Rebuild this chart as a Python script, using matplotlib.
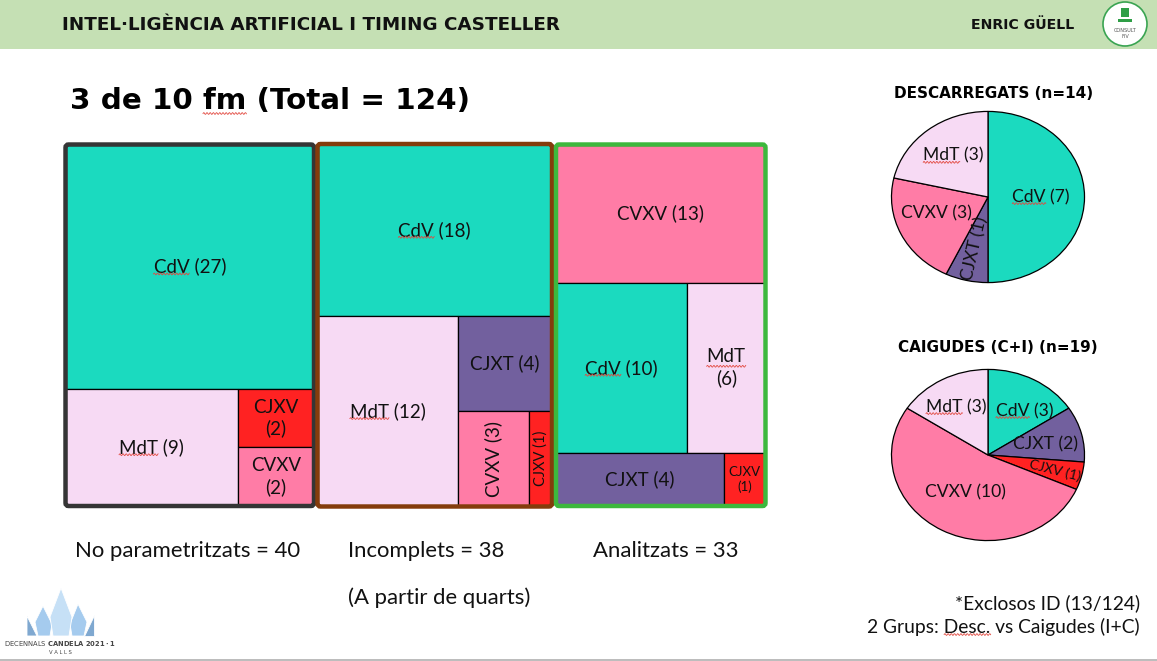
import matplotlib
matplotlib.use("Agg")
import matplotlib.pyplot as plt
from matplotlib.patches import Rectangle, FancyBboxPatch, Polygon, Circle
from matplotlib.text import Text
import numpy as np

# ---------------- data ----------------
categories = ["CdV", "MdT", "CJXT", "CVXV", "CJXV"]
no_parametritzats = [27, 9, 0, 2, 2]
incomplets = [18, 12, 4, 3, 1]
analitzats = [10, 6, 4, 13, 1]
group_names = ["No parametritzats", "Incomplets", "Analitzats"]
group_totals = [40, 38, 33]

desc_labels = ["CdV", "CJXT", "CVXV", "MdT"]
desc_values = [7, 1, 3, 3]
caig_labels = ["CdV", "CJXT", "CJXV", "CVXV", "MdT"]
caig_values = [3, 2, 1, 10, 3]

header_title = "INTEL·LIGÈNCIA ARTIFICIAL I TIMING CASTELLER"
author = "ENRIC GÜELL"
main_title = "3 de 10 fm (Total = 124)"
desc_title = "DESCARREGATS (n=14)"
caig_title = "CAIGUDES (C+I) (n=19)"
note_lines = ["*Exclosos ID (13/124)", "2 Grups: Desc. vs Caigudes (I+C)"]
sub_note = "(A partir de quarts)"

# ---------------- style ----------------
colors = {"CdV": "#1BDABF", "MdT": "#F7DAF4", "CJXT": "#72609E",
          "CVXV": "#FF7CA6", "CJXV": "#FF2222"}
LABEL_FONT = "Lato"
HEAD_FONT = "DejaVu Sans"

W, H = 1157, 661
fig = plt.figure(figsize=(W / 100, H / 100), dpi=100)
fig.patch.set_facecolor("white")

bg = fig.add_axes([0, 0, 1, 1])
bg.set_xlim(0, W)
bg.set_ylim(H, 0)
bg.axis("off")
bg.set_zorder(0)

top = fig.add_axes([0, 0, 1, 1])
top.set_xlim(0, W)
top.set_ylim(H, 0)
top.axis("off")
top.set_zorder(10)
top.patch.set_alpha(0)


def px_axes(x0, y0, x1, y1):
    ax = fig.add_axes([x0 / W, 1 - y1 / H, (x1 - x0) / W, (y1 - y0) / H])
    ax.set_zorder(2)
    return ax


spell_marks = []  # (text artist, word) pairs to get a spell-check squiggle

# header band
bg.add_patch(Rectangle((0, 0), W, 49, facecolor="#C5E0B4", edgecolor="none"))
bg.text(62, 25, header_title, fontsize=13.2, fontweight="bold", family=HEAD_FONT,
        va="center", ha="left", color="#111111")
bg.text(1074, 25, author, fontsize=10.2, fontweight="bold", family=HEAD_FONT,
        va="center", ha="right", color="#111111")
bg.add_patch(Circle((1125, 24), 22, facecolor="white", edgecolor="#3AA452", lw=1.2))
bg.add_patch(Rectangle((1121, 8), 8, 9, facecolor="#2E9E46", edgecolor="none"))
bg.add_patch(Rectangle((1118, 19), 14, 2.5, facecolor="#2E9E46", edgecolor="none"))
bg.text(1125, 30, "CONSULT", fontsize=3.6, ha="center", va="center", color="#555")
bg.text(1125, 36, "FIV", fontsize=3.6, ha="center", va="center", color="#555")

# main title
t_title = bg.text(70, 101, main_title, fontsize=21.2, fontweight="bold",
                  family=HEAD_FONT, va="center", ha="left", color="black")
spell_marks.append((t_title, "fm"))

# bottom line
bg.plot([0, W], [659.5, 659.5], color="#B0B0B0", lw=1.2)

# bottom-left logo
logo_polys = [
    ([(27, 616), (37, 636), (27, 636)], "#7FA8D0"),
    ([(94, 615), (94, 636), (84, 636)], "#7FA8D0"),
    ([(43, 606), (52, 624), (50, 636), (38, 636), (35, 622)], "#A5CBEE"),
    ([(78, 604), (87, 622), (84, 636), (72, 636), (70, 624)], "#A5CBEE"),
    ([(61, 588), (72, 617), (69, 636), (53, 636), (50, 617)], "#C6E0F6"),
]
for pts, c in logo_polys:
    bg.add_patch(Polygon(pts, closed=True, facecolor=c, edgecolor="white", lw=0.6))
bg.text(60, 643, "DECENNALS $\\bf{CANDELA}$ $\\bf{2021 \\cdot 1}$", fontsize=4.9,
        ha="center", va="center", color="#444")
bg.text(60, 653, "V A L L S", fontsize=3.8, ha="center", va="center", color="#444")


# ---------------- treemaps ----------------
def node_value(node, vals):
    if isinstance(node, str):
        return vals[node]
    return sum(node_value(c, vals) for c in node[1])


def layout(node, x, y, w, h, vals, out):
    if isinstance(node, str):
        out[node] = (x, y, w, h)
        return
    orient, children = node
    total = node_value(node, vals)
    pos = 0.0
    for c in children:
        f = node_value(c, vals) / total
        if orient == "v":
            layout(c, x, y + pos * h, w, f * h, vals, out)
        else:
            layout(c, x + pos * w, y, f * w, h, vals, out)
        pos += f


treemaps = [
    dict(values=no_parametritzats,
         structure=("v", ["CdV", ("h", ["MdT", ("v", ["CJXV", "CVXV"])])]),
         box=(65.5, 144.5, 314, 506), frame="#353535", label_x=75,
         styles={"CdV": ("{} ({})", 0, 13.5), "MdT": ("{} ({})", 0, 13.5),
                 "CJXV": ("{}\n({})", 0, 13.5), "CVXV": ("{}\n({})", 0, 13.5)}),
    dict(values=incomplets,
         structure=("v", ["CdV", ("h", ["MdT", ("v", ["CJXT", ("h", ["CVXV", "CJXV"])])])]),
         box=(317.5, 144, 552, 506.5), frame="#843C0C", label_x=348,
         styles={"CdV": ("{} ({})", 0, 13.5), "MdT": ("{} ({})", 0, 13.5),
                 "CJXT": ("{} ({})", 0, 13.5), "CVXV": ("{} ({})", 90, 13.5),
                 "CJXV": ("{} ({})", 90, 10.5)}),
    dict(values=analitzats,
         structure=("v", ["CVXV", ("h", ["CdV", "MdT"]), ("h", ["CJXT", "CJXV"])]),
         box=(556, 144.5, 765.5, 506), frame="#3DB83D", label_x=593,
         styles={"CVXV": ("{} ({})", 0, 13.5), "CdV": ("{} ({})", 0, 13.5),
                 "MdT": ("{}\n({})", 0, 13.5), "CJXT": ("{} ({})", 0, 13.5),
                 "CJXV": ("{}\n({})", 0, 9.5)}),
]

for tm, gname, gtot in zip(treemaps, group_names, group_totals):
    vals = dict(zip(categories, tm["values"]))
    x0, y0, x1, y1 = tm["box"]
    ax = px_axes(x0, y0, x1, y1)
    ax.set_xlim(0, 1)
    ax.set_ylim(1, 0)
    ax.axis("off")
    rects = {}
    layout(tm["structure"], 0, 0, 1, 1, vals, rects)
    for cat, (rx, ry, rw, rh) in rects.items():
        ax.add_patch(Rectangle((rx, ry), rw, rh, facecolor=colors[cat],
                               edgecolor="black", lw=0.9))
        fmt, rot, size = tm["styles"][cat]
        t = ax.text(rx + rw / 2, ry + rh / 2, fmt.format(cat, vals[cat]),
                    ha="center", va="center", rotation=rot, fontsize=size,
                    family=LABEL_FONT, color="#111111", linespacing=1.25)
        if cat in ("CdV", "MdT"):
            spell_marks.append((t, cat))
    top.add_patch(FancyBboxPatch((x0, y0), x1 - x0, y1 - y0,
                                 boxstyle="round,pad=0,rounding_size=3",
                                 facecolor="none", edgecolor=tm["frame"], lw=3.2))
    bg.text(tm["label_x"], 551, f"{gname} = {gtot}", fontsize=15.9,
            family=LABEL_FONT, ha="left", va="center", color="#111111")

bg.text(348, 598, sub_note, fontsize=15.9, family=LABEL_FONT, ha="left",
        va="center", color="#111111")

# bottom right notes
bg.text(1140, 603, note_lines[0], fontsize=13.9, family=LABEL_FONT, ha="right",
        va="center", color="#111111")
t_note = bg.text(1140, 627, note_lines[1], fontsize=13.9, family=LABEL_FONT,
                 ha="right", va="center", color="#111111")
spell_marks.append((t_note, "Desc."))


# ---------------- pies ----------------
def draw_pie(box, labels, values, dists, dangs, radial, sizes):
    ax = px_axes(*box)
    wedges, _ = ax.pie(values, colors=[colors[l] for l in labels], startangle=90,
                       counterclock=False,
                       wedgeprops=dict(edgecolor="black", linewidth=0.9))
    ax.set_aspect("auto")
    ax.set_xlim(-1.005, 1.005)
    ax.set_ylim(-1.005, 1.005)
    for w, lab, v, d, da, rad, s in zip(wedges, labels, values, dists, dangs,
                                        radial, sizes):
        mid = (w.theta1 + w.theta2) / 2
        a = np.deg2rad(mid + da)
        rot = 0
        if rad:
            rot = mid + 180 if np.cos(np.deg2rad(mid)) < 0 else mid
        t = ax.text(d * np.cos(a), d * np.sin(a), f"{lab} ({v})", ha="center",
                    va="center", rotation=rot, rotation_mode="anchor",
                    fontsize=s, family=LABEL_FONT, color="#111111")
        if lab in ("CdV", "MdT"):
            spell_marks.append((t, lab))
    return ax


draw_pie((891, 111, 1085, 283), desc_labels, desc_values,
         [0.55, 0.62, 0.57, 0.6], [0, 0, -6, -2], [False, True, False, False],
         [12.6, 12.6, 12.6, 12.6])
draw_pie((891, 369, 1085, 541), caig_labels, caig_values,
         [0.64, 0.61, 0.72, 0.49, 0.65], [-8, -2, 0, 0, 2],
         [False, False, True, False, False], [12.6, 12.6, 10, 12.6, 12.6])

bg.text(994, 94, desc_title, fontsize=11, fontweight="bold", family=HEAD_FONT,
        ha="center", va="center", color="black")
bg.text(998, 347, caig_title, fontsize=11, fontweight="bold", family=HEAD_FONT,
        ha="center", va="center", color="black")

# ---------------- spell-check squiggles ----------------
renderer = fig.canvas.get_renderer()


def text_width(s, fp):
    tmp = Text(0, 0, s, fontproperties=fp, figure=fig)
    ext = tmp.get_window_extent(renderer)
    return ext.width, ext.height


inv = top.transData.inverted()
for art, word in spell_marks:
    fp = art.get_fontproperties()
    bb = art.get_window_extent(renderer)
    lines = art.get_text().split("\n")
    idx = next(i for i, ln in enumerate(lines) if word in ln)
    line = lines[idx]
    lw_, lh = text_width(line, fp)
    ha = art.get_horizontalalignment()
    if ha == "center":
        left = (bb.x0 + bb.x1) / 2 - lw_ / 2
    elif ha == "right":
        left = bb.x1 - lw_
    else:
        left = bb.x0
    pre = line[: line.index(word) + len(word)]
    pw, _ = text_width(pre, fp)
    ww, _ = text_width(word, fp)
    xs0, xs1 = left + pw - ww, left + pw
    ybase = bb.y1 - (idx + 1) * bb.height / len(lines) + 1.5
    xs = np.linspace(xs0, xs1, 80)
    ys = ybase + 0.9 * np.sin(2 * np.pi * (xs - xs0) / 3.2)
    pts = inv.transform(np.column_stack([xs, ys]))
    top.plot(pts[:, 0], pts[:, 1], color="#E2483F", lw=0.6)

fig.savefig("out.png", dpi=100, facecolor="white")
